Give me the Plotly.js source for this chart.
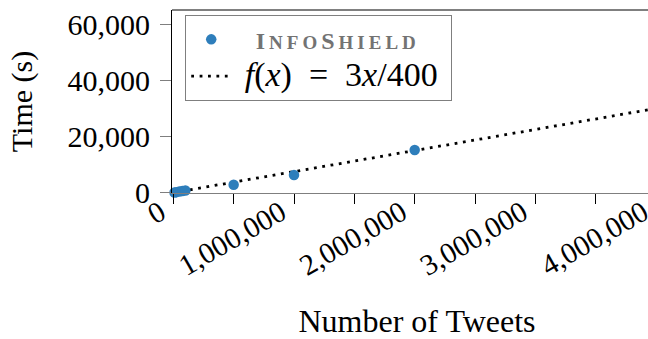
<!DOCTYPE html>
<html>
<head>
<meta charset="utf-8">
<script src="https://cdn.plot.ly/plotly-3.0.1.min.js"></script>
<style>
  html, body { margin: 0; padding: 0; background: #fff; overflow: hidden; width: 648px; height: 339px; }
  #chart { width: 664px; height: 339px; }
</style>
</head>
<body>
<div id="chart"></div>
<script>
// Data
const tweets = [10000, 25000, 50000, 75000, 100000, 500000, 1000000, 2000000];
const times  = [80, 190, 380, 560, 760, 2850, 6300, 15200];

// Reference line f(x) = 3x/400, endpoints
const fitX = [0, 4100000];
const fitY = [0, 30750];

const xTickVals = [0, 500000, 1000000, 1500000, 2000000, 2500000, 3000000, 3500000, 4000000];
const xTickText = ['0', '', '1,000,000', '', '2,000,000', '', '3,000,000', '', '4,000,000'];
const yTickVals = [0, 20000, 40000, 60000];
const yTickText = ['0', '20,000', '40,000', '60,000'];

const serif = "'Liberation Serif', 'Times New Roman', serif";
const nb = '\u00a0';
const capStyle = 'color:#737373;font-weight:700;letter-spacing:4px;font-size:24px';
const scStyle  = 'color:#737373;font-weight:700;letter-spacing:4px;font-size:19px';
const mathStyle = 'font-size:34px';

const traces = [
  {
    x: fitX, y: fitY, mode: 'lines', type: 'scatter',
    name: "<span style='" + mathStyle + "'>" + nb + '<i>f</i>(<i>x</i>)' + nb + nb + '=' + nb + nb + '3<i>x</i>/400' + nb + '</span>',
    line: { color: '#000000', width: 2.8, dash: '2.8px,5.6px' },
    legendrank: 2, hoverinfo: 'skip', cliponaxis: true
  },
  {
    x: tweets, y: times, mode: 'markers', type: 'scatter',
    name: nb + nb + nb + '<b>' +
      "<span style='" + capStyle + "'>I</span>" +
      "<span style='" + scStyle + "'>NFO</span>" +
      "<span style='" + capStyle + "'>S</span>" +
      "<span style='" + scStyle + "'>HIELD</span></b>",
    marker: { color: '#2e7ebb', size: 10.5 },
    legendrank: 1, cliponaxis: false
  }
];

const layout = {
  width: 664, height: 339,
  margin: { l: 172, r: 2, t: 10, b: 146, pad: 0 },
  paper_bgcolor: '#ffffff', plot_bgcolor: '#ffffff',
  font: { family: serif, size: 30, color: '#000000' },
  showlegend: true,
  legend: {
    x: 0.027, y: 0.973, xanchor: 'left', yanchor: 'top',
    bgcolor: '#ffffff', bordercolor: '#7f7f7f', borderwidth: 1,
    font: { family: serif, size: 26, color: '#000000' },
    itemwidth: 40, tracegroupgap: 0
  },
  xaxis: {
    range: [-10770, 4048840],
    tickmode: 'array', tickvals: xTickVals, ticktext: xTickText,
    tickangle: -30, ticklabeloverflow: 'allow',
    ticklabelshift: -13, ticklabelstandoff: -20,
    ticks: 'outside', ticklen: 10, tickwidth: 1, tickcolor: '#000000',
    showline: true, linecolor: '#7f7f7f', linewidth: 1,
    showgrid: false, zeroline: false,
    tickfont: { family: serif, size: 29.5, color: '#000000' },
    title: { text: 'Number of Tweets', font: { family: serif, size: 32, color: '#000000' }, standoff: 36 },
    automargin: false, fixedrange: true
  },
  yaxis: {
    range: [-110, 65020],
    tickmode: 'array', tickvals: yTickVals, ticktext: yTickText,
    ticklabelstandoff: 4,
    ticks: 'outside', ticklen: 11, tickwidth: 1, tickcolor: '#7f7f7f',
    showline: true, linecolor: '#000000', linewidth: 1,
    showgrid: false, zeroline: false,
    tickfont: { family: serif, size: 30, color: '#000000' },
    title: { text: 'Time (s)', font: { family: serif, size: 30, color: '#000000' }, standoff: 26 },
    automargin: false, fixedrange: true
  },
  shapes: [
    { type: 'line', xref: 'paper', yref: 'paper', x0: 0, x1: 1, y0: 1, y1: 1,
      line: { color: '#000000', width: 1 } }
  ]
};

Plotly.newPlot('chart', traces, layout, { displayModeBar: false, staticPlot: true });
</script>
</body>
</html>
